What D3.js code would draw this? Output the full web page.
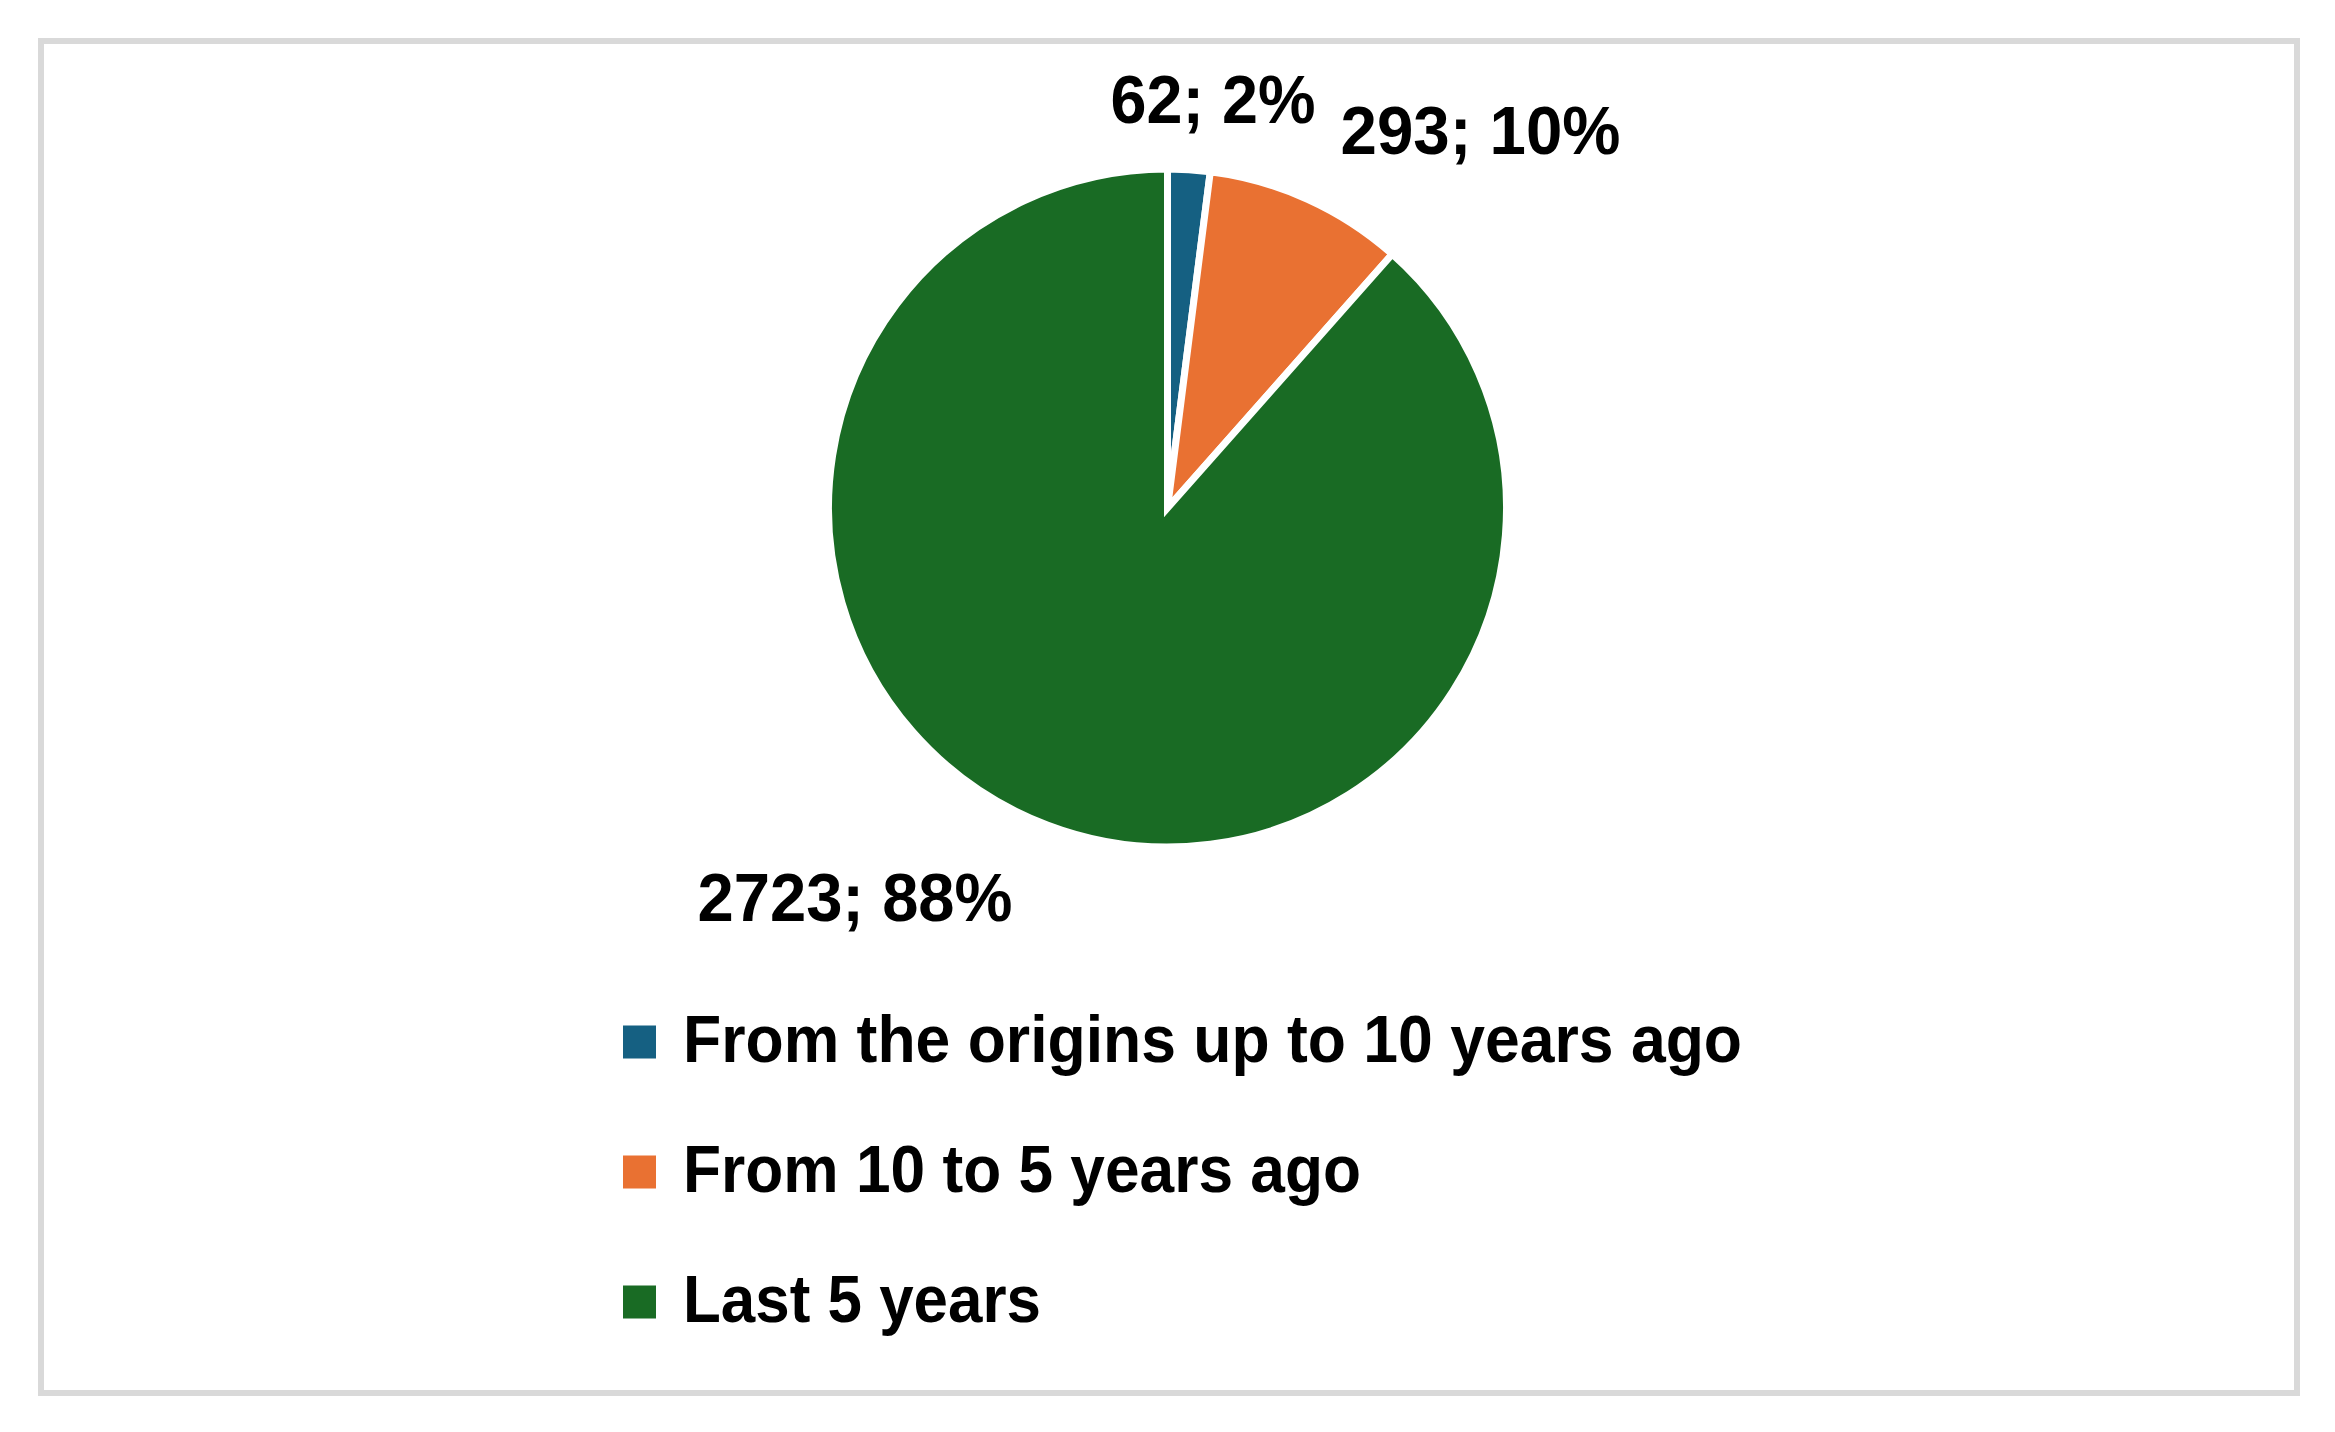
<!DOCTYPE html>
<html>
<head>
<meta charset="utf-8">
<script src="https://cdn.jsdelivr.net/npm/d3@7"></script>
<style>
  html, body { margin: 0; padding: 0; background: #ffffff; }
  svg { display: block; }
  text { font-family: "Liberation Sans", Arial, sans-serif; font-weight: bold; fill: #000; }
</style>
</head>
<body>
<svg id="chart" width="2335" height="1432"></svg>
<script>
// ---- data ----
const categories = ["From the origins up to 10 years ago", "From 10 to 5 years ago", "Last 5 years"];
const values = [62, 293, 2723];
const percentLabels = ["2%", "10%", "88%"];
const colors = ["#156082", "#E97132", "#196B24"];

// ---- layout ----
const W = 2335, H = 1432;
const cx = 1167.5, cy = 508, R = 339;
// label anchors (start x offset, baseline offset from pie centre) and rendered widths
const labelLayout = [
  { dx: -57, dy: -385, w: 205 },
  { dx: 173, dy: -354, w: 280 },
  { dx: -470, dy: 413, w: 315 }
];
const legendX = 623, legendY0 = 1042, legendStep = 130, sq = 33;
const legendTextWidths = [1059, 678, 358];

const svg = d3.select("#chart");

// border frame
svg.append("rect")
  .attr("x", 41).attr("y", 41)
  .attr("width", 2256).attr("height", 1352)
  .attr("fill", "#ffffff")
  .attr("stroke", "#d9d9d9")
  .attr("stroke-width", 6);

const data = categories.map((c, i) => ({ name: c, value: values[i], pct: percentLabels[i], color: colors[i] }));

const pie = d3.pie().value(d => d.value).sort(null).startAngle(0).endAngle(2 * Math.PI);
const arc = d3.arc().innerRadius(0).outerRadius(R);

const g = svg.append("g").attr("transform", `translate(${cx},${cy})`);
g.selectAll("path.slice")
  .data(pie(data))
  .join("path")
  .attr("class", "slice")
  .attr("d", arc)
  .attr("fill", d => d.data.color)
  .attr("stroke", "#ffffff")
  .attr("stroke-width", 7)
  .attr("stroke-linejoin", "miter");

// data labels
g.selectAll("text.lbl")
  .data(pie(data))
  .join("text")
  .attr("class", "lbl")
  .attr("x", (d, i) => labelLayout[i].dx)
  .attr("y", (d, i) => labelLayout[i].dy)
  .attr("font-size", 68)
  .attr("textLength", (d, i) => labelLayout[i].w)
  .attr("lengthAdjust", "spacingAndGlyphs")
  .text(d => `${d.data.value}; ${d.data.pct}`);

// legend
const lg = svg.append("g");
const items = lg.selectAll("g.item")
  .data(data)
  .join("g")
  .attr("class", "item")
  .attr("transform", (d, i) => `translate(${legendX},${legendY0 + i * legendStep})`);
items.append("rect")
  .attr("x", 0).attr("y", -sq / 2)
  .attr("width", sq).attr("height", sq)
  .attr("fill", d => d.color);
items.append("text")
  .attr("x", 60)
  .attr("y", 20)
  .attr("font-size", 67)
  .attr("textLength", (d, i) => legendTextWidths[i])
  .attr("lengthAdjust", "spacingAndGlyphs")
  .text(d => d.name);
</script>
</body>
</html>
